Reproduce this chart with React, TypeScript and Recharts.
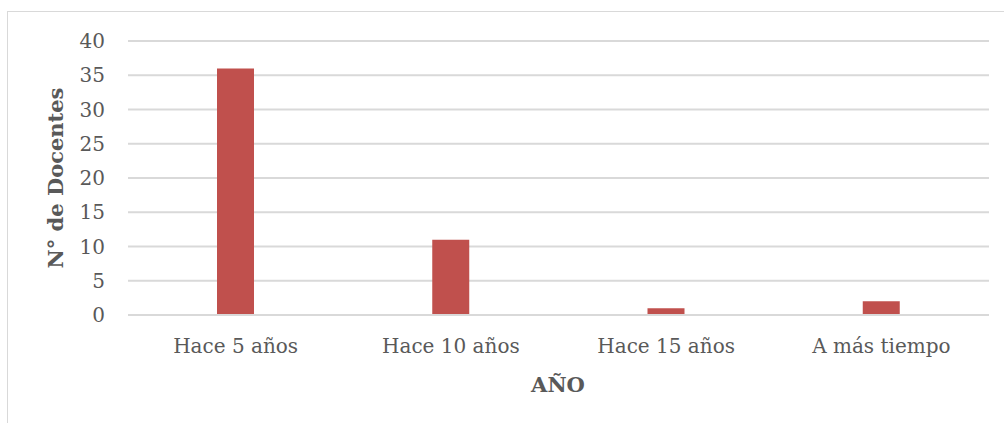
import { BarChart, Bar, XAxis, YAxis, CartesianGrid } from "recharts";

const categories = ["Hace 5 años", "Hace 10 años", "Hace 15 años", "A más tiempo"];
const docentes = [36, 11, 1, 2];
const yTicks = [0, 5, 10, 15, 20, 25, 30, 35, 40];

const data = categories.map((name, i) => ({ name, docentes: docentes[i] }));

const FONT = "'DejaVu Serif', serif";
const TEXT = "#595959";

export default function App() {
  return (
    <div style={{ position: "absolute", left: 0, top: 0, width: 1004, height: 423, background: "#fff" }}>
      <div
        style={{
          position: "absolute",
          left: 7,
          top: 11,
          width: 1010,
          height: 420,
          border: "1px solid #D9D9D9",
          boxSizing: "border-box",
        }}
      />
      <div style={{ position: "absolute", left: 0, top: 0 }}>
        <BarChart
          width={1004}
          height={423}
          data={data}
          margin={{ top: 41, right: 15, bottom: 78, left: 0 }}
          barCategoryGap={89}
        >
          <CartesianGrid vertical={false} stroke="#D9D9D9" strokeWidth={2} />
          <XAxis
            dataKey="name"
            height={30}
            axisLine={{ stroke: "#D9D9D9", strokeWidth: 2 }}
            tickLine={false}
            tickSize={0}
            tickMargin={24}
            tick={{ fill: TEXT, fontSize: 20, fontFamily: FONT }}
            interval={0}
          />
          <YAxis
            width={128}
            domain={[0, 40]}
            ticks={yTicks}
            axisLine={false}
            tickLine={false}
            tickSize={0}
            tickMargin={23}
            tick={{ fill: TEXT, fontSize: 20, fontFamily: FONT }}
          />
          <Bar dataKey="docentes" fill="#C0504D" isAnimationActive={false} />
          <text
            x={55}
            y={178}
            transform="rotate(-90 55 178)"
            textAnchor="middle"
            dominantBaseline="central"
            fill={TEXT}
            fontSize={21}
            fontWeight="bold"
            fontFamily={FONT}
          >
            N° de Docentes
          </text>
          <text
            x={558}
            y={392}
            textAnchor="middle"
            fill={TEXT}
            fontSize={21}
            fontWeight="bold"
            fontFamily={FONT}
          >
            AÑO
          </text>
        </BarChart>
      </div>
    </div>
  );
}
